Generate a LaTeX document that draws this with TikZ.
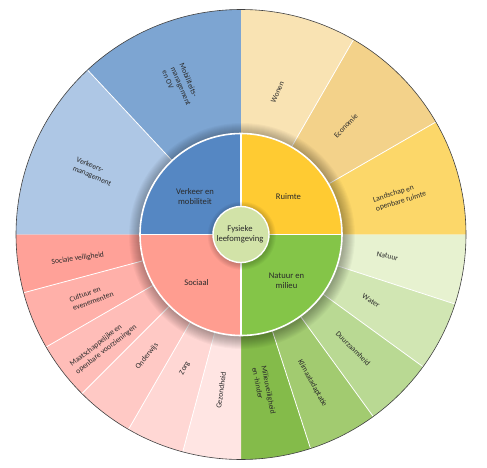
\documentclass[tikz,border=0pt]{standalone}
\usepackage{fontspec}
\setmainfont{Carlito}
\definecolor{cMob}{HTML}{7DA5D2}
\definecolor{cVerk}{HTML}{AEC7E5}
\definecolor{cQblue}{HTML}{5587C3}
\definecolor{cWon}{HTML}{F9E3B3}
\definecolor{cEco}{HTML}{F3D28A}
\definecolor{cLand}{HTML}{FCD769}
\definecolor{cQyel}{HTML}{FFCB32}
\definecolor{cNat}{HTML}{E7F2D0}
\definecolor{cWat}{HTML}{D1E6B3}
\definecolor{cDuur}{HTML}{B9D993}
\definecolor{cKlim}{HTML}{A2CB70}
\definecolor{cMil}{HTML}{84BB4A}
\definecolor{cQgreen}{HTML}{84C548}
\definecolor{cSoc}{HTML}{FFA198}
\definecolor{cCul}{HTML}{FFB0A9}
\definecolor{cMaat}{HTML}{FFBDB8}
\definecolor{cOnd}{HTML}{FFC9C5}
\definecolor{cZorg}{HTML}{FFD7D4}
\definecolor{cGez}{HTML}{FFE5E3}
\definecolor{cQred}{HTML}{FF9D90}
\definecolor{cCenter}{HTML}{D2E3A8}
\definecolor{cText}{HTML}{2A2A2A}
\begin{document}
\begin{tikzpicture}[x=1pt,y=1pt,
  lab/.style={font=\fontsize{7.6}{9.4}\selectfont, text=cText, align=left, inner sep=0pt},
  inlab/.style={font=\fontsize{8.6}{9.8}\selectfont, text=cText, align=center, inner sep=0pt}]
\useasboundingbox (0,0) rectangle (487,467);
\begin{scope}[shift={(241,232.5)}]
\def\R{225}
\def\Ri{101}
\def\Rc{28}
% outer ring wedges
\foreach \a/\b/\c in {90/133/cMob,133/180/cVerk,60/90/cWon,30/60/cEco,0/30/cLand,
  -18/0/cNat,-36/-18/cWat,-54/-36/cDuur,-72/-54/cKlim,-90/-72/cMil,
  180/195/cSoc,195/210/cCul,210/225/cMaat,225/240/cOnd,240/255/cZorg,255/270/cGez}
  \fill[\c] (0,0) -- (\a:\R) arc[start angle=\a, end angle=\b, radius=\R] -- cycle;
% white dividers
\foreach \a in {133,60,30,-18,-36,-54,-72,195,210,225,240,255}
  \draw[white, line width=0.8] (0,0) -- (\a:\R);
% outer outline
\draw[black!75, line width=0.6] (0,0) circle[radius=\R];
% shadow of inner circle
\foreach \i in {1,...,12}
  \fill[black, opacity=0.026] (1,-1.5) circle[radius=\Ri+\i];
% inner quadrants
\foreach \a/\b/\c in {90/180/cQblue,0/90/cQyel,-90/0/cQgreen,180/270/cQred}
  \fill[\c] (0,0) -- (\a:\Ri) arc[start angle=\a, end angle=\b, radius=\Ri] -- cycle;
\foreach \a in {0,90,180,270}
  \draw[white, line width=1.2] (0,0) -- (\a:\Ri);
\draw[white, line width=1.6] (0,0) circle[radius=\Ri];
% shadow of centre
\foreach \i in {1,...,6}
  \fill[black, opacity=0.035] (0.8,-1.2) circle[radius=\Rc+\i];
\fill[cCenter] (0,0) circle[radius=\Rc];
\draw[white, line width=1.4] (0,0) circle[radius=\Rc];
% inner labels
\node[inlab] (fysiek) at (-1,0.5) {Fysieke\\leefomgeving};
\node[inlab] (verkeer) at (-46,38) {Verkeer en\\mobiliteit};
\node[inlab] (ruimte) at (47.5,38.2) {Ruimte};
\node[inlab] (sociaal) at (-44.5,-48.2) {Sociaal};
\node[inlab] (natuurmilieu) at (45.5,-46.5) {Natuur en\\milieu};
% outer labels
\node[lab, rotate=-67] (mob) at (112:160) {Mobiliteits-\\management\\en OV};
\node[lab, rotate=-23] (verkm) at (157:160) {Verkeers-\\management};
\node[lab, rotate=66] (wonen) at (75.6:147) {Wonen};
\node[lab, rotate=46] (eco) at (46:151) {Economie};
\node[lab, rotate=17] (land) at (13.3:163) {Landschap en\\openbare ruimte};
\node[lab, rotate=-12] (nat) at (-8.4:148) {Natuur};
\node[lab, rotate=-31] (wat) at (-27:146) {Water};
\node[lab, rotate=-45] (duur) at (-45.5:160) {Duurzaamheid};
\node[lab, rotate=-61] (klim) at (-64.4:165) {Klimaatadaptatie};
\node[lab, rotate=-79] (mil) at (-81.6:158) {Milieuveiligheid\\en -hinder};
\node[lab, rotate=8] (socv) at (188.4:165) {Sociale veiligheid};
\node[lab, rotate=20] (cul) at (202.6:162) {Cultuur en\\evenementen};
\node[lab, rotate=38] (maat) at (219:177) {Maatschappelijke en\\openbare voorzieningen};
\node[lab, rotate=51] (ond) at (232.4:154) {Onderwijs};
\node[lab, rotate=62] (zorg) at (247.2:145) {Zorg};
\node[lab, rotate=82] (gez) at (262.7:157) {Gezondheid};
\end{scope}
\end{tikzpicture}
\end{document}
